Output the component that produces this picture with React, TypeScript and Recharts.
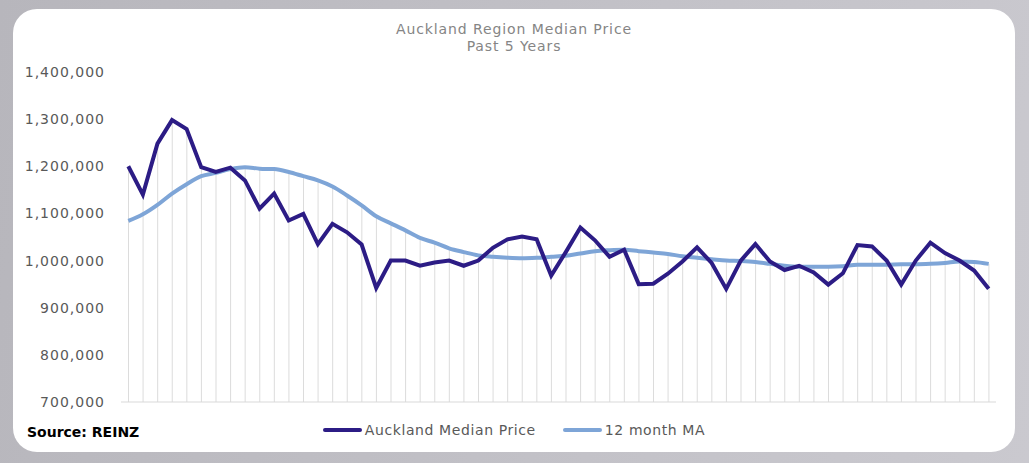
import React from 'react';
import { ComposedChart, Line, Bar, XAxis, YAxis } from 'recharts';

// monthly median price, last 60 months
const medianPrice = [
  1200000, 1140000, 1248000, 1298000, 1279000, 1198000, 1188000, 1197000, 1170000, 1110000,
  1142000, 1085000, 1099000, 1035000, 1078000, 1060000, 1034000, 942000, 1000000, 1000000,
  989000, 996000, 1000000, 989000, 1000000, 1027000, 1045000, 1051000, 1045000, 968000,
  1018000, 1070000, 1043000, 1008000, 1023000, 950000, 951000, 972000, 998000, 1028000,
  995000, 940000, 1000000, 1035000, 998000, 980000, 989000, 975000, 949000, 973000,
  1033000, 1030000, 1000000, 949000, 1000000, 1038000, 1016000, 1000000, 979000, 940000
];

const movingAverage = [
  1084000, 1098000, 1118000, 1142000, 1162000, 1179000, 1186000, 1194000, 1198000, 1195000,
  1194000, 1188000, 1179000, 1170000, 1157000, 1138000, 1117000, 1094000, 1079000, 1064000,
  1048000, 1038000, 1026000, 1018000, 1011000, 1008000, 1006000, 1005000, 1006000, 1008000,
  1010000, 1015000, 1020000, 1022000, 1023000, 1020000, 1017000, 1014000, 1009000, 1006000,
  1003000, 1000000, 999000, 997000, 993000, 989000, 987000, 987000, 987000, 988000,
  991000, 991000, 991000, 992000, 992000, 993000, 995000, 998000, 997000, 993000
];

const yTicks = [700000, 800000, 900000, 1000000, 1100000, 1200000, 1300000, 1400000];

const series = [
  { key: 'price', name: 'Auckland Median Price', color: '#2c1c85' },
  { key: 'ma', name: '12 month MA', color: '#7ea5d7' }
];

const data = medianPrice.map((price, i) => ({
  month: i,
  price,
  ma: movingAverage[i],
  drop: Math.max(price, movingAverage[i])
}));

// tick marks sit between the months, like the Excel original
const frameTicks = [-0.5, ...medianPrice.map((_, i) => i + 0.5)];

const font = '"DejaVu Sans", sans-serif';

const App: React.FC = () => {
  return (
    <div
      style={{
        position: 'absolute',
        left: 0,
        top: 0,
        width: 1029,
        height: 463,
        background: 'linear-gradient(100deg, #b7b6bc 0%, #c3c2c8 60%, #cac9cf 100%)',
        fontFamily: font
      }}
    >
      <div
        style={{
          position: 'absolute',
          left: 13,
          top: 9,
          width: 1002,
          height: 443,
          borderRadius: 24,
          background: '#ffffff',
          overflow: 'hidden'
        }}
      >
        <div
          style={{
            position: 'absolute',
            left: 0,
            top: 12,
            width: 1002,
            textAlign: 'center',
            color: '#858585',
            fontSize: 14,
            letterSpacing: 0.9,
            lineHeight: '17px'
          }}
        >
          <div>Auckland Region Median Price</div>
          <div>Past 5 Years</div>
        </div>

        <ComposedChart
          width={1002}
          height={443}
          data={data}
          margin={{ top: 63, right: 19, bottom: 46, left: 0 }}
        >
          <XAxis xAxisId="pts" dataKey="month" type="number" domain={[-0.5, 59.5]} hide />
          <XAxis
            xAxisId="frame"
            dataKey="month"
            type="number"
            domain={[-0.5, 59.5]}
            ticks={frameTicks}
            tick={false}
            tickSize={4}
            height={4}
            interval={0}
            axisLine={{ stroke: '#d9d9d9' }}
            tickLine={{ stroke: '#e3e3e3' }}
          />
          <YAxis
            domain={[700000, 1400000]}
            ticks={yTicks}
            width={108}
            axisLine={false}
            tickLine={false}
            tickSize={0}
            tickMargin={16}
            tick={{ fill: '#595959', fontSize: 14, fontFamily: font, letterSpacing: 1 }}
            tickFormatter={(v: number) => v.toLocaleString('en-US')}
          />
          <Bar
            xAxisId="pts"
            dataKey="drop"
            barSize={1}
            fill="#dcdcdc"
            isAnimationActive={false}
          />
          <Line
            xAxisId="pts"
            type="monotone"
            dataKey="ma"
            stroke={series[1].color}
            strokeWidth={4}
            dot={false}
            isAnimationActive={false}
          />
          <Line
            xAxisId="pts"
            type="linear"
            dataKey="price"
            stroke={series[0].color}
            strokeWidth={4}
            dot={false}
            isAnimationActive={false}
          />
        </ComposedChart>

        <div
          style={{
            position: 'absolute',
            left: 14,
            top: 414,
            fontSize: 14,
            fontWeight: 'bold',
            color: '#000000',
            lineHeight: '18px'
          }}
        >
          Source: REINZ
        </div>

        <div
          style={{
            position: 'absolute',
            left: 0,
            top: 412,
            width: 1002,
            display: 'flex',
            justifyContent: 'center',
            gap: 27,
            fontSize: 14,
            letterSpacing: 0.6,
            color: '#595959',
            lineHeight: '18px'
          }}
        >
          {series.map((s) => (
            <div key={s.key} style={{ display: 'flex', alignItems: 'center', gap: 3 }}>
              <span
                style={{
                  display: 'inline-block',
                  width: 39,
                  height: 4,
                  borderRadius: 2,
                  background: s.color
                }}
              />
              <span>{s.name}</span>
            </div>
          ))}
        </div>
      </div>
    </div>
  );
};

export default App;
